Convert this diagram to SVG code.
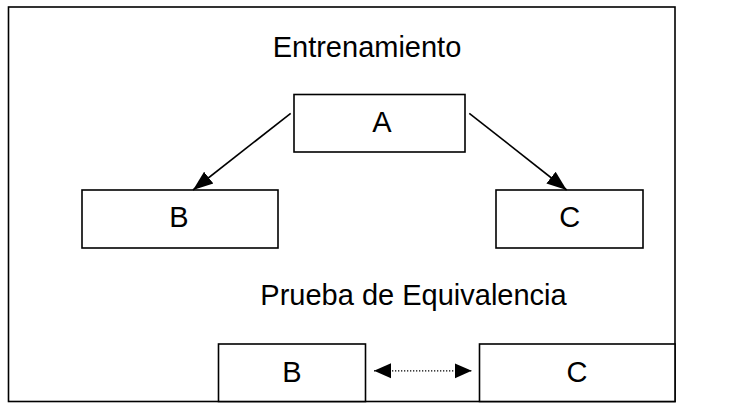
<svg xmlns="http://www.w3.org/2000/svg" width="753" height="418" viewBox="0 0 753 418">
  <style>
    .box { fill: #ffffff; stroke: #000000; stroke-width: 1.6; }
    .lbl { font-family: "Liberation Sans", Arial, sans-serif; font-size: 29px; fill: #000000; text-anchor: middle; }
    .conn { fill: none; stroke: #000000; stroke-width: 1.6; }
    .dot { fill: none; stroke: #000000; stroke-width: 1.3; stroke-dasharray: 1.3 1.7; }
  </style>
  <defs>
    <marker id="ah" markerUnits="userSpaceOnUse" markerWidth="22" markerHeight="18" refX="20" refY="9" orient="auto">
      <polygon points="0,1.5 20,9 0,16.5" fill="#000000"/>
    </marker>
    <marker id="ah2" markerUnits="userSpaceOnUse" markerWidth="18" markerHeight="16" refX="17" refY="8" orient="auto-start-reverse">
      <polygon points="0,0.5 17,8 0,15.5" fill="#000000"/>
    </marker>
  </defs>
  <rect width="753" height="418" fill="#ffffff"/>
  <rect id="frame" x="8.5" y="7" width="666.5" height="394.5" fill="none" stroke="#000000" stroke-width="1.6"/>

  <g id="title-training">
    <text class="lbl" x="367" y="57">Entrenamiento</text>
  </g>
  <g id="title-test">
    <text class="lbl" x="413.5" y="305">Prueba de Equivalencia</text>
  </g>

  <g id="nodeA">
    <rect class="box" x="294" y="94.5" width="171" height="57.5"/>
    <text class="lbl" x="382" y="131.7">A</text>
  </g>
  <g id="nodeB1">
    <rect class="box" x="82" y="190" width="196" height="58"/>
    <text class="lbl" x="179" y="226.7">B</text>
  </g>
  <g id="nodeC1">
    <rect class="box" x="496" y="190" width="147" height="58"/>
    <text class="lbl" x="569.7" y="227">C</text>
  </g>
  <g id="nodeB2">
    <rect class="box" x="218.5" y="344" width="147" height="57.5"/>
    <text class="lbl" x="292" y="381.7">B</text>
  </g>
  <g id="nodeC2">
    <rect class="box" x="479.5" y="344" width="195.5" height="57.5"/>
    <text class="lbl" x="577" y="381.7">C</text>
  </g>

  <g id="connectors">
    <line class="conn" x1="290.7" y1="113.3" x2="193" y2="190" marker-end="url(#ah)"/>
    <line class="conn" x1="469.3" y1="113.3" x2="566.7" y2="190" marker-end="url(#ah)"/>
    <line class="dot" x1="374" y1="370.8" x2="471.7" y2="370.8" marker-start="url(#ah2)" marker-end="url(#ah2)"/>
  </g>
</svg>
